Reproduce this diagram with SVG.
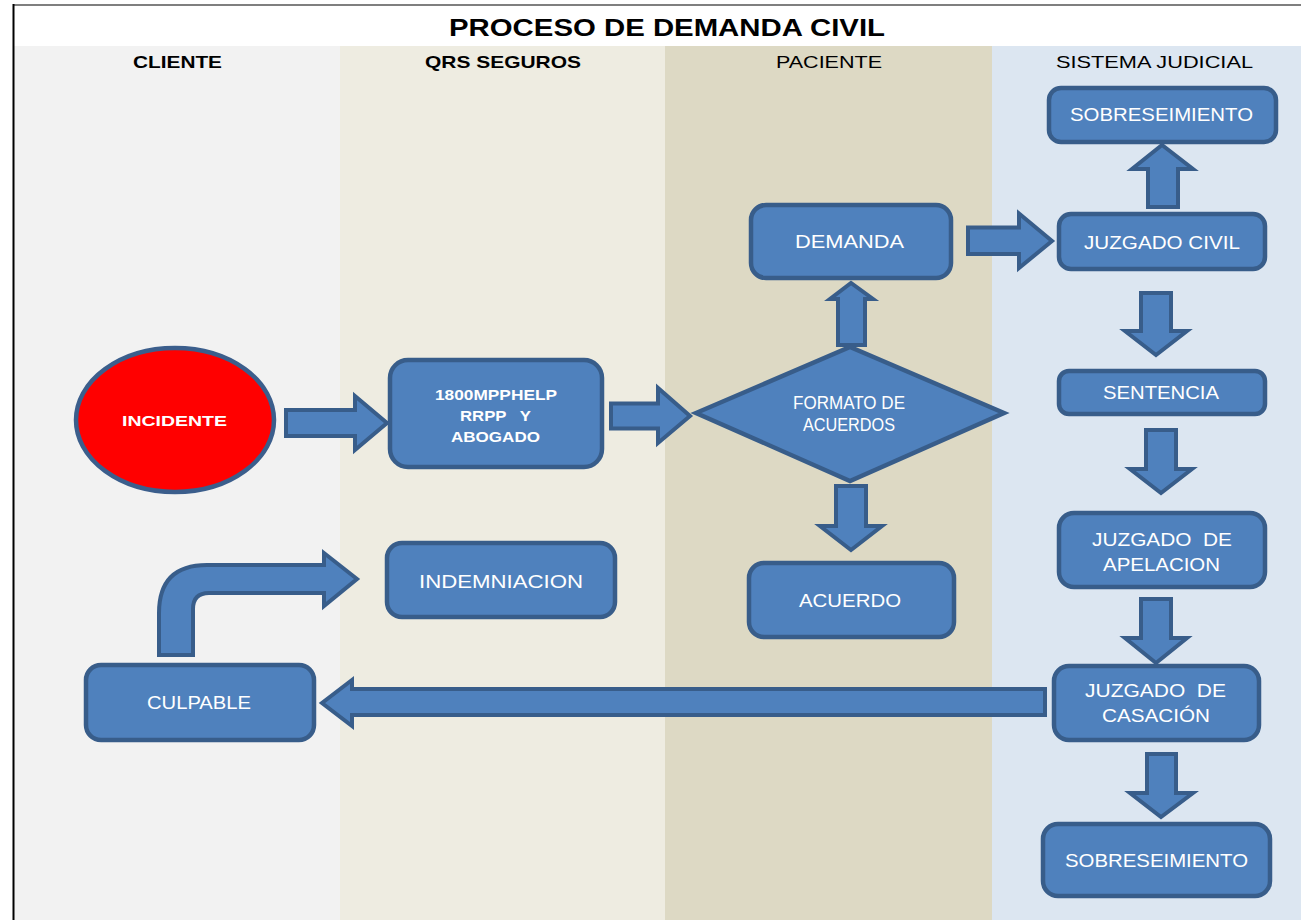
<svg xmlns="http://www.w3.org/2000/svg" width="1301" height="920" viewBox="0 0 1301 920">
<defs>
<style>
.lane-title{font-family:"Liberation Sans",Arial,sans-serif;font-size:17px;fill:#000;text-anchor:middle}
.node{fill:#4f81bd;stroke:#385d8a;stroke-width:4.5}
.arrow{fill:#4f81bd;stroke:#385d8a;stroke-width:4;stroke-linejoin:miter}
.lbl{font-family:"Liberation Sans",Arial,sans-serif;font-size:18px;fill:#fff;text-anchor:middle}
.lblb{font-family:"Liberation Sans",Arial,sans-serif;font-size:14px;font-weight:bold;fill:#fff;text-anchor:middle}
</style>
</defs>
<rect x="0" y="0" width="1301" height="920" fill="#ffffff"/>
<g id="lanes">
<rect x="14" y="46" width="326" height="874" fill="#f2f2f2"/>
<rect x="340" y="46" width="325" height="874" fill="#eeece1"/>
<rect x="665" y="46" width="327" height="874" fill="#ddd9c4"/>
<rect x="992" y="46" width="309" height="874" fill="#dce6f1"/>
<line x1="13" y1="5" x2="1301" y2="5" stroke="#555" stroke-width="1.5"/>
<line x1="13.5" y1="4" x2="13.5" y2="920" stroke="#000" stroke-width="2"/>
<text x="667" y="36" font-family="'Liberation Sans',Arial,sans-serif" font-size="24" font-weight="bold" text-anchor="middle" textLength="436" lengthAdjust="spacingAndGlyphs">PROCESO DE DEMANDA CIVIL</text>
<text class="lane-title" x="177.5" y="68" font-weight="bold" textLength="89" lengthAdjust="spacingAndGlyphs">CLIENTE</text>
<text class="lane-title" x="503" y="68" font-weight="bold" textLength="156" lengthAdjust="spacingAndGlyphs">QRS SEGUROS</text>
<text class="lane-title" x="829" y="68" textLength="106" lengthAdjust="spacingAndGlyphs">PACIENTE</text>
<text class="lane-title" x="1154.5" y="68" textLength="197" lengthAdjust="spacingAndGlyphs">SISTEMA JUDICIAL</text>
</g>
<g id="connectors">
<polygon class="arrow" points="286,410 355,410 355,396 387,423 355,450 355,436 286,436"/>
<polygon class="arrow" points="611,403.5 658,403.5 658,388 690,416 658,443 658,428.5 611,428.5"/>
<polygon class="arrow" points="838,345 838,299 830,299 851,283 873,299 865,299 865,345"/>
<polygon class="arrow" points="836,486 866,486 866,526 882,526 851,550 820,526 836,526"/>
<polygon class="arrow" points="968,227.5 1019,227.5 1019,213.5 1052,241 1019,268 1019,254 968,254"/>
<polygon class="arrow" points="1148,207 1148,169 1132,169 1162,145 1193,169 1178,169 1178,207"/>
<polygon class="arrow" points="1141,293 1171,293 1171,331 1187,331 1156,355 1125,331 1141,331"/>
<polygon class="arrow" points="1146,430 1176,430 1176,469 1192,469 1161,493 1130,469 1146,469"/>
<polygon class="arrow" points="1141,599 1171,599 1171,638 1187,638 1156,663 1125,638 1141,638"/>
<polygon class="arrow" points="1147,754 1176,754 1176,793 1193,793 1161,817 1130,793 1147,793"/>
<polygon class="arrow" points="1045,689 352,689 352,680 322,703 352,726 352,715 1045,715"/>
<path class="arrow" d="M159,655 L159,613 Q159,565 207,565 L324,565 L324,553 L357,579 L324,606 L324,593 L209,593 Q193,593 193,609 L193,655 Z"/>
</g>
<g id="incidente">
<ellipse cx="175" cy="420" rx="99" ry="72" fill="#ff0000" stroke="#3b5e8c" stroke-width="4.5"/>
<text class="lblb" x="174.5" y="426" font-size="16" textLength="105" lengthAdjust="spacingAndGlyphs">INCIDENTE</text>
</g>
<g id="n1800">
<rect class="node" x="390" y="360" width="212" height="107" rx="18"/>
<text class="lblb" x="496" y="400" textLength="122" lengthAdjust="spacingAndGlyphs">1800MPPHELP</text>
<text class="lblb" x="495.5" y="421" textLength="71" lengthAdjust="spacingAndGlyphs" xml:space="preserve">RRPP   Y</text>
<text class="lblb" x="495.5" y="442" textLength="89" lengthAdjust="spacingAndGlyphs">ABOGADO</text>
</g>
<g id="formato">
<polygon class="node" points="696,413 850,347 1004,413 850,481"/>
<text class="lbl" x="849" y="409" font-size="15" textLength="112" lengthAdjust="spacingAndGlyphs">FORMATO DE</text>
<text class="lbl" x="849" y="431" font-size="15" textLength="92" lengthAdjust="spacingAndGlyphs">ACUERDOS</text>
</g>
<g id="demanda">
<rect class="node" x="751" y="205" width="200" height="73" rx="15"/>
<text class="lbl" x="849.5" y="248" textLength="109" lengthAdjust="spacingAndGlyphs">DEMANDA</text>
</g>
<g id="acuerdo">
<rect class="node" x="749" y="563" width="205" height="74" rx="15"/>
<text class="lbl" x="850" y="607" textLength="102" lengthAdjust="spacingAndGlyphs">ACUERDO</text>
</g>
<g id="sobreseimiento1">
<rect class="node" x="1049" y="88" width="227" height="54" rx="12"/>
<text class="lbl" x="1161.5" y="121" textLength="183" lengthAdjust="spacingAndGlyphs">SOBRESEIMIENTO</text>
</g>
<g id="juzgado-civil">
<rect class="node" x="1059" y="214" width="206" height="55" rx="12"/>
<text class="lbl" x="1162" y="249" textLength="156" lengthAdjust="spacingAndGlyphs">JUZGADO CIVIL</text>
</g>
<g id="sentencia">
<rect class="node" x="1059" y="371" width="206" height="43" rx="10"/>
<text class="lbl" x="1161" y="399" textLength="116" lengthAdjust="spacingAndGlyphs">SENTENCIA</text>
</g>
<g id="apelacion">
<rect class="node" x="1059" y="513" width="206" height="74" rx="15"/>
<text class="lbl" x="1162" y="546" textLength="140" lengthAdjust="spacingAndGlyphs" xml:space="preserve">JUZGADO  DE</text>
<text class="lbl" x="1161.5" y="571" textLength="117" lengthAdjust="spacingAndGlyphs">APELACION</text>
</g>
<g id="casacion">
<rect class="node" x="1054" y="666" width="205" height="74" rx="15"/>
<text class="lbl" x="1155.5" y="697" textLength="141" lengthAdjust="spacingAndGlyphs" xml:space="preserve">JUZGADO  DE</text>
<text class="lbl" x="1156" y="722" textLength="108" lengthAdjust="spacingAndGlyphs">CASACIÓN</text>
</g>
<g id="sobreseimiento2">
<rect class="node" x="1043" y="824" width="227" height="72" rx="15"/>
<text class="lbl" x="1156.5" y="867" textLength="183" lengthAdjust="spacingAndGlyphs">SOBRESEIMIENTO</text>
</g>
<g id="indemniacion">
<rect class="node" x="387" y="543" width="228" height="74" rx="15"/>
<text class="lbl" x="501" y="588" textLength="164" lengthAdjust="spacingAndGlyphs">INDEMNIACION</text>
</g>
<g id="culpable">
<rect class="node" x="86" y="665" width="228" height="75" rx="15"/>
<text class="lbl" x="199" y="709" textLength="104" lengthAdjust="spacingAndGlyphs">CULPABLE</text>
</g>
</svg>
